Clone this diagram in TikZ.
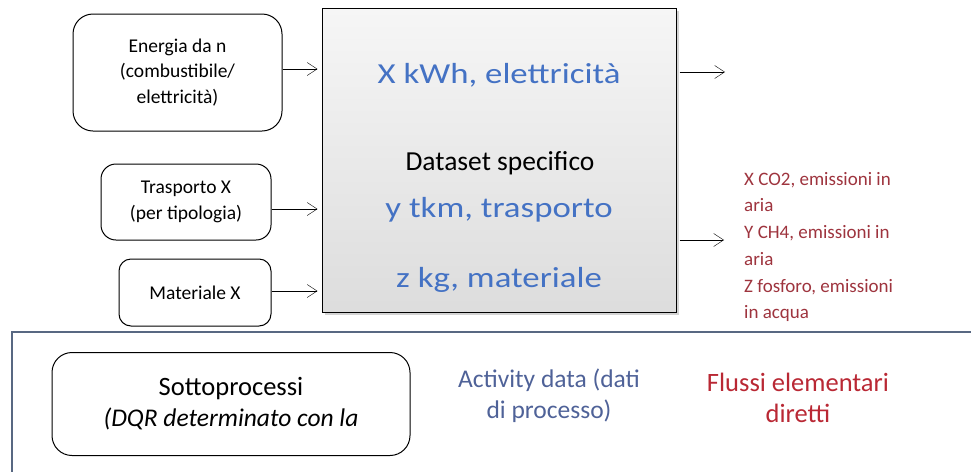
\documentclass[tikz,border=0pt]{standalone}
\usepackage{fontspec}
\setmainfont{Carlito}
\newfontfamily\widefont{Carlito}[FakeStretch=1.2]
\usepackage{xcolor}
\usepackage{tikz}
\usetikzlibrary{positioning, arrows.meta, shadows}
\definecolor{kwblue}{RGB}{68,114,196}
\definecolor{emired}{RGB}{158,52,62}
\definecolor{flured}{RGB}{185,40,52}
\definecolor{actblue}{RGB}{79,98,152}
\definecolor{framegray}{RGB}{88,104,130}
\tikzset{->,>={Straight Barb[length=10pt,width=13pt]},
line width=0.9pt,
inbox/.style={draw, line width=1pt, align=center, font=\fontsize{19.5}{25.5}\selectfont},
procbox/.style={draw, line width=1pt, top color=gray!7, bottom color=gray!27,
  drop shadow={shadow xshift=3pt, shadow yshift=-3pt, opacity=.35}},
bluetxt/.style={anchor=base, text=kwblue, font=\widefont\fontsize{29}{34}\selectfont},
%legend texts below the frame
legtxt/.style={align=center, font=\fontsize{26.5}{31}\selectfont}}

\begin{document}
\begin{tikzpicture}[x=1pt,y=-1pt]
\useasboundingbox (0,0) rectangle (971,472);
\node[procbox, minimum width=354pt, minimum height=304pt] (ds) at (499,160) {};
\node[inbox, rounded corners=20pt, minimum width=209pt, minimum height=117pt] (en) at (177.5,72.5)
  {Energia da n\\(combustibile/\\elettricità)};
\node[inbox, rounded corners=15pt, minimum width=170pt, minimum height=76pt] (tr) at (186,202)
  {Trasporto X\\(per tipologia)};
\node[inbox, rounded corners=12pt, minimum width=152pt, minimum height=67pt] (ma) at (195,292.5)
  {Materiale X};
\node[bluetxt] (kwh) at (499,83) {X kWh, elettricità};
\node[anchor=base, font=\fontsize{27.5}{30}\selectfont] (dset) at (500,170) {Dataset specifico};
\node[bluetxt] (tkm) at (499,217) {y tkm, trasporto};
\node[bluetxt] (kg) at (499,287) {z kg, materiale};
\coordinate (o1) at (725,72);
\coordinate (o2) at (724,240);
\node[anchor=north west, inner sep=0pt, align=left, text=emired,
  font=\fontsize{19}{26.7}\selectfont] (em) at (744,172)
  {X CO2, emissioni in\\aria\\Y CH4, emissioni in\\aria\\Z fosforo, emissioni\\in acqua};
\draw[shorten >=4pt] (en.east |- 0,69) -- (ds.west |- 0,69);
\draw[shorten >=4pt] (tr.east |- 0,209) -- (ds.west |- 0,209);
\draw[shorten >=4pt] (ma.east |- 0,291) -- (ds.west |- 0,291);
\draw (ds.east |- o1) ++(3,0) -- (o1);
\draw (ds.east |- o2) ++(3,0) -- (o2);
\draw[-, framegray, line width=1.2pt] (971,332) -- (12,332) -- (12,472);
\node[draw, line width=1pt, rounded corners=20pt, minimum width=358pt, minimum height=103pt, legtxt] (sp) at (231,404)
  {Sottoprocessi\\{\fontsize{25.5}{31}\selectfont\itshape (DQR determinato con la}};
\node[legtxt, font=\fontsize{25.5}{31}\selectfont, text=actblue] (ad) at (549,396) {Activity data (dati\\di processo)};
\node[legtxt, text=flured] (fe) at (798,398) {Flussi elementari\\diretti};
\end{tikzpicture}
\end{document}
